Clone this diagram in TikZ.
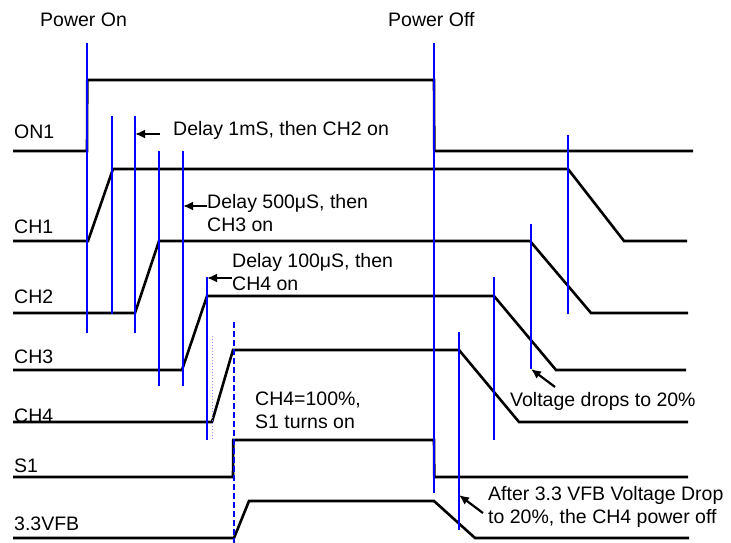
\documentclass[tikz,border=0pt]{standalone}
\usepackage{fontspec}
\setmainfont{Liberation Sans}
\usepackage{tikz}
\usetikzlibrary{arrows.meta, positioning}

\begin{document}
\begin{tikzpicture}[
  x=1pt, y=-1pt,
  font=\fontsize{19.5}{23}\selectfont,
  sig/.style={line width=2.6pt, black, line join=miter},
  tline/.style={line width=1.2pt, blue},
  txt/.style={anchor=base west, inner sep=0pt, align=left},
  note/.style={-{Latex[length=10pt,width=9pt]}, line width=2.2pt}
]
\useasboundingbox (0,0) rectangle (731,543);

% signal traces: low, high, rise from/to, fall from/to, end
\foreach \lo/\hi/\ra/\rb/\fa/\fb/\xe in {
    151/80/87/87.3/434/434.3/693,
    241/169/88/113/568/624/687,
    313/241/135/159/530/591/688,
    370/296/182/207/494/556/686,
    422/350/212/233/459/519/688,
    477/440/233/233.3/434/434.3/688,
    538/501/234/249/434/475/689}{
  \draw[sig] (13,\lo) -- (\ra,\lo) -- (\rb,\hi) -- (\fa,\hi) -- (\fb,\lo) -- (\xe,\lo);
}

% signal names
\foreach \yb/\lbl [count=\i] in {138/ON1, 233/CH1, 303/CH2, 363/CH3,
    422/CH4, 472/S1, 530/3.3VFB}{
  \node[txt] (sig-\i) at (14,\yb) {\lbl};
}

% blue time markers
\foreach \x/\ya/\yb in {87/43/333, 434/43/493, 112/116/314, 135/116/333,
    159/151/386, 183/151/386, 207/277/440, 568/135/314, 531/224/369,
    494/277/440, 459/332/530}{
  \draw[tline] (\x,\ya) -- (\x,\yb);
}
\draw[blue!45, line width=1pt, dotted] (212,336) -- (212,440);
\draw[blue, line width=2pt, dash pattern=on 6pt off 3pt] (234,322) -- (234,543);

\node[txt] (pon)  at (40,27)  {Power On};
\node[txt] (poff) at (388,27) {Power Off};

\node[txt] (d1) at (173,135) {Delay 1mS, then CH2 on};
\node[txt] (d2) at (207,231) {Delay 500μS, then\\CH3 on};
\node[txt] (d3) at (232,290) {Delay 100μS, then\\CH4 on};
\node[txt] (s1on) at (255,428) {CH4=100\%,\\S1 turns on};
\node[txt] (vdrop) at (510,406) {Voltage drops to 20\%};
\node[txt] (vfb) at (488,523) {After 3.3 VFB Voltage Drop\\to 20\%, the CH4 power off};

\coordinate (t1) at (160,134); \coordinate (h1) at (135,134);
\coordinate (t2) at (207,206); \coordinate (h2) at (183,206);
\coordinate (t3) at (232,278); \coordinate (h3) at (207,278);
\coordinate (t4) at (555,387); \coordinate (h4) at (531,369);
\coordinate (t5) at (483,513); \coordinate (h5) at (459,495);

\draw[note] (t1) -- (h1);
\draw[note] (t2) -- (h2);
\draw[note] (t3) -- (h3);
\draw[note] (t4) -- (h4);
\draw[note] (t5) -- (h5);

\end{tikzpicture}
\end{document}
